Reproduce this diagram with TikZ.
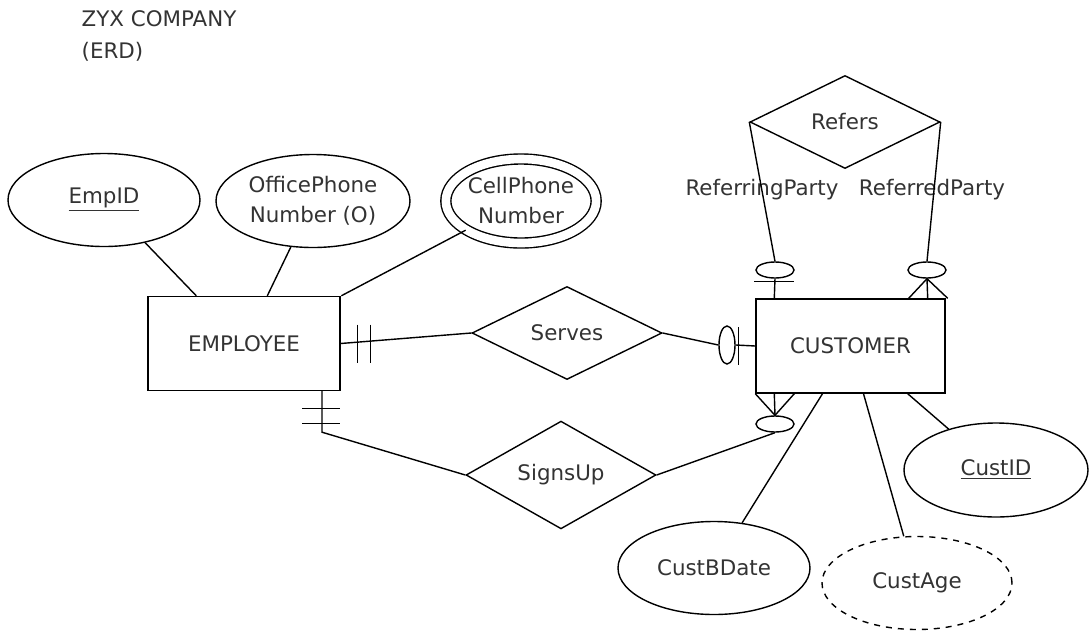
\documentclass[tikz,border=0pt]{standalone}
\usepackage{fontspec}
\setmainfont{DejaVu Sans}
\usetikzlibrary{shapes.geometric}

\begin{document}
\begin{tikzpicture}[x=0.5pt, y=-0.5pt, line width=0.7pt,
    every node/.style={text=black!80, font=\fontsize{10.7}{15}\selectfont},
    entity/.style={rectangle, draw=black, inner sep=0pt, minimum width=#1, minimum height=47pt},
    relation/.style={diamond, draw=black, inner sep=0pt, minimum width=95pt, minimum height=46.5pt},
    attrib/.style={ellipse, draw=black, inner sep=0pt, align=center, minimum width=#1, minimum height=46.5pt},
    optmark/.style={ellipse, draw=black, inner sep=0pt, minimum width=#1},
    rolelabel/.style={inner sep=0pt}]
    \useasboundingbox (0,0) rectangle (1089,633);

    % Title
    \node[anchor=north west, align=left, inner sep=0pt] (title) at (81,10) {ZYX COMPANY\\[1pt](ERD)};

    % Entities
    \node[entity=96pt] (employee) at (244,343.5) {EMPLOYEE};
    \node[entity=94.5pt] (customer) at (850.5,346) {CUSTOMER};

    % Relationships
    \node[relation] (serves) at (567,333) {Serves};
    \node[relation] (signsup) at (561,475) {SignsUp};
    \node[relation] (refers) at (845,122) {Refers};

    % Employee attributes
    \node[attrib=96pt] (empid) at (104,200) {\underline{EmpID}};
    \node[attrib=97pt] (offphone) at (313,201) {OfficePhone\\Number (O)};
    \node[attrib=74pt, minimum height=42pt, double, double distance=4.3pt] (cellphone) at (521,201) {CellPhone\\Number};

    % Customer attributes
    \node[attrib=92pt, minimum height=47pt] (custid) at (996,470) {\underline{CustID}};
    \node[attrib=96pt] (custbdate) at (714,568) {CustBDate};
    \node[attrib=95pt, dashed] (custage) at (917,583) {CustAge};

    % Optional marks
    \node[optmark=8pt, minimum height=19pt] (optserve) at (727,345) {};
    \node[optmark=19pt, minimum height=8pt] (optsign) at (775,424) {};
    \node[optmark=19pt, minimum height=8pt] (optrefl) at (775,270) {};
    \node[optmark=19pt, minimum height=8pt] (optrefr) at (927,270) {};

    % Role names
    \node[rolelabel] (referring) at (762,190) {ReferringParty};
    \node[rolelabel] (referred) at (932,190) {ReferredParty};

    % Attribute links
    \draw (empid) -- ([shift={(49,0)}]employee.north west);
    \draw (offphone) -- ([shift={(120,0)}]employee.north west);
    \draw (cellphone) -- ([shift={(194,0)}]employee.north west);
    \draw (custid) -- ([shift={(-38,0)}]customer.south east);
    \draw (custbdate) -- ([shift={(-28,0)}]customer.south);
    \draw (custage) -- ([shift={(13,0)}]customer.south);

    % Serves
    \draw (employee.east) -- (serves.west);
    \draw ([shift={(17,-19)}]employee.east) -- ++(0,38);
    \draw ([shift={(30,-19)}]employee.east) -- ++(0,38);
    \draw (serves.east) -- (optserve.west);
    \draw (optserve.east) -- (customer.west);
    \draw ([shift={(-17,-19)}]customer.west) -- ++(0,38);

    % SignsUp
    \coordinate (empbend) at ([shift={(78,41)}]employee.south);
    \draw ([shift={(78,0)}]employee.south) -- (empbend) -- (signsup.west);
    \draw ([shift={(58,17)}]employee.south) -- ++(38,0);
    \draw ([shift={(58,32)}]employee.south) -- ++(38,0);
    \draw (signsup.east) -- (optsign.south);
    \draw (customer.south west) -- (optsign.north) -- ([shift={(39,0)}]customer.south west);
    \draw (optsign.north) -- ([shift={(19,0)}]customer.south west);

    % Refers
    \draw (refers.west) -- (optrefl.north);
    \draw (optrefl.south) -- ([shift={(19,0)}]customer.north west);
    \draw ([shift={(-1,-17)}]customer.north west) -- ++(40,0);
    \draw (refers.east) -- (optrefr.north);
    \draw ([shift={(-37,0)}]customer.north east) -- (optrefr.south) -- ([shift={(2,0)}]customer.north east);
    \draw (optrefr.south) -- ([shift={(-18,0)}]customer.north east);
\end{tikzpicture}
\end{document}
